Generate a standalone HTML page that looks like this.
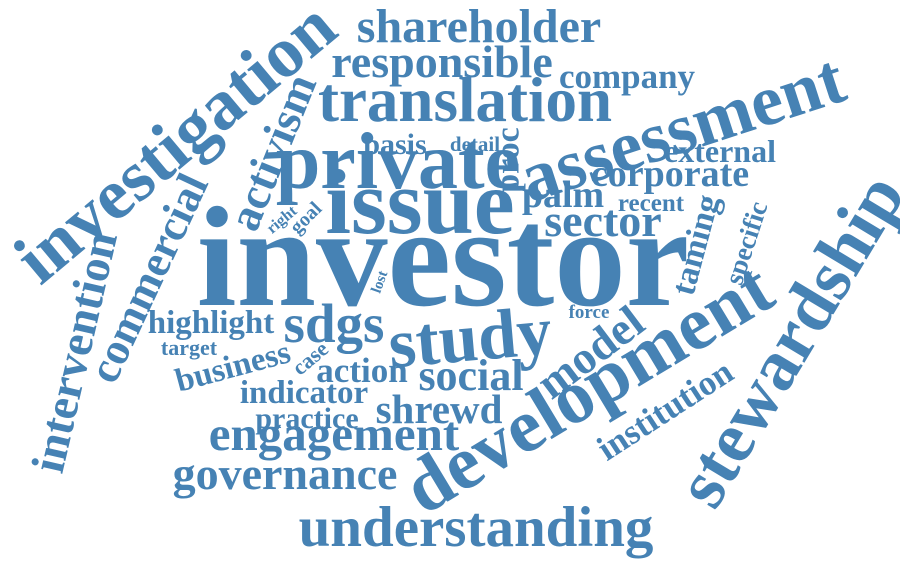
<!DOCTYPE html>
<html><head><meta charset="utf-8"><style>
html,body{margin:0;padding:0;background:#fff;}
svg{display:block;}
text{font-family:"Liberation Serif",serif;font-weight:bold;fill:#4682b4;}
</style></head><body>
<svg width="900" height="561" viewBox="0 0 900 561">
<g text-anchor="middle">
<text x="443" y="305" font-size="143">investor</text>
<text x="420" y="233" font-size="92">issue</text>
<text x="398" y="188" font-size="80">private</text>
<text x="465" y="121" font-size="63">translation</text>
<text x="442" y="77" font-size="46">responsible</text>
<text x="479" y="42" font-size="48">shareholder</text>
<text x="627" y="88" font-size="35">company</text>
<text x="720" y="162" font-size="32">external</text>
<text x="670" y="186" font-size="38">corporate</text>
<text x="475" y="151" font-size="21">detail</text>
<text x="395" y="154" font-size="30">basis</text>
<text x="563" y="207" font-size="38">palm</text>
<text x="651" y="211" font-size="25">recent</text>
<text x="603" y="236" font-size="46">sector</text>
<text x="589" y="318" font-size="19">force</text>
<text x="334" y="342" font-size="55">sdgs</text>
<text x="211" y="333" font-size="33">highlight</text>
<text x="189" y="355" font-size="22">target</text>
<text x="362" y="382" font-size="35">action</text>
<text x="471" y="390" font-size="44">social</text>
<text x="304" y="403" font-size="33">indicator</text>
<text x="439" y="423" font-size="41">shrewd</text>
<text x="307" y="428" font-size="30">practice</text>
<text x="334" y="450" font-size="49">engagement</text>
<text x="285" y="489" font-size="46">governance</text>
<text x="476" y="546" font-size="57">understanding</text>
</g>
<g text-anchor="middle" dominant-baseline="central">
<text transform="translate(682,128) rotate(-18)" font-size="72">assessment</text>
<text transform="translate(508,160) rotate(-90)" font-size="34">proc</text>
<text transform="translate(696,245) rotate(-75)" font-size="34">taming</text>
<text transform="translate(746,243) rotate(-72)" font-size="27">specific</text>
<text transform="translate(790,340) rotate(-59)" font-size="72">stewardship</text>
<text transform="translate(588,388) rotate(-31)" font-size="76">development</text>
<text transform="translate(590,352) rotate(-37)" font-size="46">model</text>
<text transform="translate(665,410) rotate(-33)" font-size="35">institution</text>
<text transform="translate(470,338) rotate(-5)" font-size="70">study</text>
<text transform="translate(233,367) rotate(-15)" font-size="33">business</text>
<text transform="translate(310,358) rotate(-40)" font-size="22">case</text>
<text transform="translate(175,142) rotate(-40)" font-size="72">investigation</text>
<text transform="translate(148,278) rotate(-65)" font-size="45">commercial</text>
<text transform="translate(75,352) rotate(-77)" font-size="47">intervention</text>
<text transform="translate(272,152) rotate(-68)" font-size="46">activism</text>
<text transform="translate(282,220) rotate(-40)" font-size="16">right</text>
<text transform="translate(306,218) rotate(-45)" font-size="20">goal</text>
<text transform="translate(380,282) rotate(-70)" font-size="15">lost</text>
</g>
</svg>
</body></html>
